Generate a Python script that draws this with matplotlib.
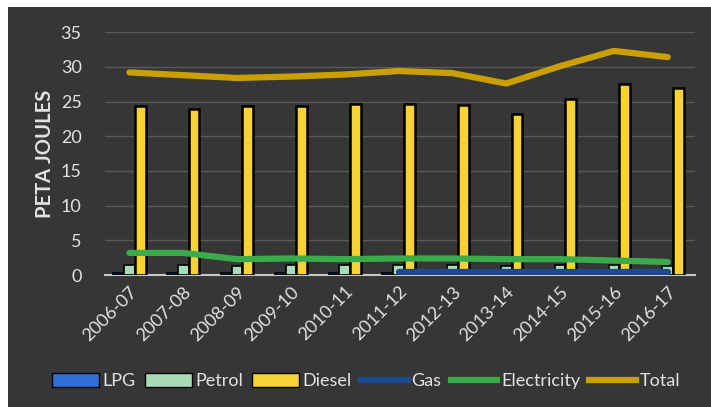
import numpy as np
import matplotlib
matplotlib.use("Agg")
import matplotlib.pyplot as plt
from matplotlib.patches import Rectangle, Patch
from matplotlib.lines import Line2D

plt.rcParams['font.family'] = ['Lato', 'DejaVu Sans']

# data (peta joules)
years = ['2006-07', '2007-08', '2008-09', '2009-10', '2010-11', '2011-12',
         '2012-13', '2013-14', '2014-15', '2015-16', '2016-17']
lpg = [0.3, 0.3, 0.3, 0.3, 0.3, 0.3, 0.3, 0.3, 0.3, 0.3, 0.3]
petrol = [1.4, 1.4, 1.3, 1.4, 1.5, 1.5, 1.4, 1.3, 1.4, 1.4, 1.3]
diesel = [24.3, 24.0, 24.3, 24.3, 24.6, 24.6, 24.5, 23.2, 25.4, 27.6, 27.0]
gas = [np.nan, np.nan, np.nan, np.nan, np.nan, 0.4, 0.4, 0.4, 0.4, 0.4, 0.4]
electricity = [3.2, 3.2, 2.3, 2.4, 2.3, 2.4, 2.4, 2.3, 2.3, 2.1, 1.9]
total = [29.2, 28.8, 28.4, 28.6, 28.9, 29.4, 29.1, 27.6, 30.1, 32.3, 31.4]

bg = '#363636'
txt = '#e2e2e2'
c_lpg = '#2f6fd6'
c_petrol = '#a8dcb8'
c_diesel = '#f7d233'
c_gas = '#1c4a8c'
c_elec = '#3aaa4a'
c_total = '#c9a000'

fig = plt.figure(figsize=(7.11, 4.07), dpi=100, facecolor='white')
fig.patches.append(Rectangle((8 / 711, 0), 1, 1 - 7 / 407, transform=fig.transFigure,
                             facecolor=bg, edgecolor='none', zorder=-5))
ax = fig.add_axes([0.148, 0.324, 0.829, 0.597])
ax.set_facecolor('none')

x = np.arange(len(years))
w = 0.2
ax.bar(x - w, lpg, w, color=c_lpg, edgecolor='black', linewidth=1.2, zorder=3)
ax.bar(x, petrol, w, color=c_petrol, edgecolor='black', linewidth=1.2, zorder=3)
ax.bar(x + w, diesel, w, color=c_diesel, edgecolor='black', linewidth=1.8, zorder=3)
ax.plot(x, gas, color=c_gas, linewidth=4.5, zorder=4, solid_capstyle='round')
ax.plot(x, electricity, color=c_elec, linewidth=4.5, zorder=5, solid_capstyle='round')
ax.plot(x, total, color=c_total, linewidth=4.5, zorder=5, solid_capstyle='round')

ax.set_ylim(0, 35)
ax.set_xlim(-0.45, 10.5)
ax.set_yticks(range(0, 36, 5))
ax.set_xticks(x)
ax.set_xticklabels(years, rotation=45, ha='right', rotation_mode='anchor')
ax.tick_params(axis='both', length=0, colors=txt, labelsize=13)
ax.tick_params(axis='y', pad=17)
ax.tick_params(axis='x', pad=6)
ax.grid(axis='y', color='#595959', linewidth=1, zorder=1)
for s in ['top', 'right', 'left']:
    ax.spines[s].set_visible(False)
ax.spines['bottom'].set_color('#c8c8c8')
ax.spines['bottom'].set_linewidth(1.5)
ax.spines['bottom'].set_zorder(2)
ax.set_ylabel('PETA JOULES', color=txt, fontsize=14.5, fontweight='bold', labelpad=4)

handles = [Patch(facecolor=c_lpg, edgecolor='black', label='LPG'),
           Patch(facecolor=c_petrol, edgecolor='black', label='Petrol'),
           Patch(facecolor=c_diesel, edgecolor='black', label='Diesel'),
           Line2D([], [], color=c_gas, linewidth=4.5, label='Gas'),
           Line2D([], [], color=c_elec, linewidth=4.5, label='Electricity'),
           Line2D([], [], color=c_total, linewidth=4.5, label='Total')]
leg = fig.legend(handles=handles, loc='center', bbox_to_anchor=(0.515, 0.063), ncol=6,
                 frameon=False, fontsize=13, handlelength=2.6, handleheight=0.8,
                 columnspacing=0.5, handletextpad=0.2, labelcolor=txt)

fig.savefig('out.png', dpi=100, facecolor=fig.get_facecolor())
